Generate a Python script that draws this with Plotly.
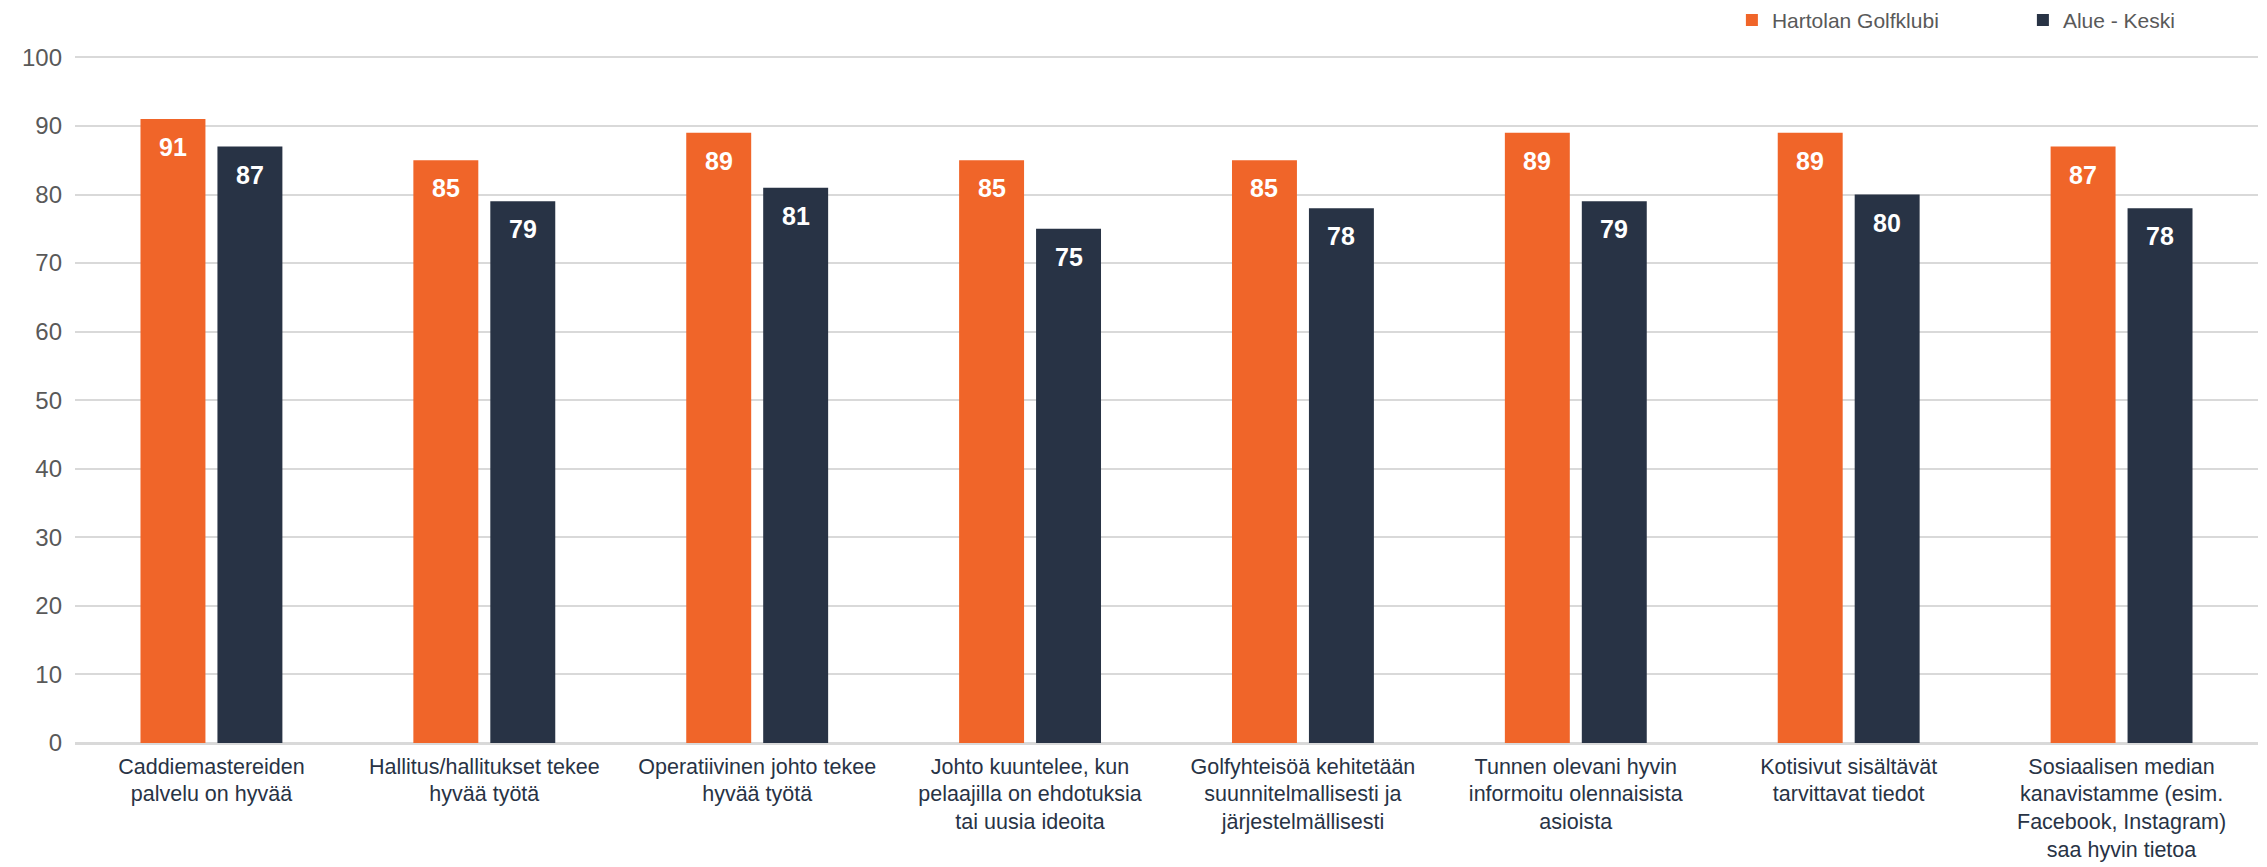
import plotly.graph_objects as go

categories = [
    "Caddiemastereiden<br>palvelu on hyvää",
    "Hallitus/hallitukset tekee<br>hyvää työtä",
    "Operatiivinen johto tekee<br>hyvää työtä",
    "Johto kuuntelee, kun<br>pelaajilla on ehdotuksia<br>tai uusia ideoita",
    "Golfyhteisöä kehitetään<br>suunnitelmallisesti ja<br>järjestelmällisesti",
    "Tunnen olevani hyvin<br>informoitu olennaisista<br>asioista",
    "Kotisivut sisältävät<br>tarvittavat tiedot",
    "Sosiaalisen median<br>kanavistamme (esim.<br>Facebook, Instagram)<br>saa hyvin tietoa",
]
series_names = ["Hartolan Golfklubi", "Alue - Keski"]
hartola = [91, 85, 89, 85, 85, 89, 89, 87]
alue = [87, 79, 81, 75, 78, 79, 80, 78]
y_ticks = [0, 10, 20, 30, 40, 50, 60, 70, 80, 90, 100]

colors = ["#F06529", "#283345"]
FONT = "Liberation Sans, Arial, sans-serif"

BARGAP = 0.436
BARGROUPGAP = 0.156
W, H = 2259, 859
ML, MR, MT, MB = 67, 9, 48, 124

fig = go.Figure()
for name, vals, col in zip(series_names, [hartola, alue], colors):
    fig.add_trace(go.Bar(
        name=name, x=categories, y=vals,
        marker=dict(color=col, line=dict(width=0)),
        cliponaxis=False,
    ))

# data labels placed inside the top of each bar
cat_px = (W - ML - MR) / len(categories)
slot_px = cat_px * (1 - BARGAP) / 2
for i, vals in enumerate([hartola, alue]):
    shift = (i - 0.5) * slot_px
    for c, v in zip(categories, vals):
        fig.add_annotation(
            x=c, y=v, xref="x", yref="y", text=str(v), showarrow=False,
            xshift=shift, yshift=-28, yanchor="middle", xanchor="center",
            font=dict(family=FONT, size=25, color="white", weight="bold"),
        )

fig.update_layout(
    width=W, height=H,
    barmode="group", bargap=BARGAP, bargroupgap=BARGROUPGAP,
    plot_bgcolor="white", paper_bgcolor="white",
    margin=dict(l=ML, r=MR, t=MT, b=MB, autoexpand=False),
    font=dict(family=FONT, color="#595959"),
    showlegend=True,
    legend=dict(
        orientation="h", x=0.759, xanchor="left", y=1.052, yanchor="middle",
        font=dict(family=FONT, size=21, color="#595959"),
        entrywidth=246, entrywidthmode="pixels",
        bgcolor="rgba(0,0,0,0)", traceorder="normal",
    ),
    xaxis=dict(
        type="category", tickfont=dict(family=FONT, size=21.5, color="#283345"),
        showgrid=False, showline=False, ticks="", ticklabelstandoff=8,
    ),
    yaxis=dict(
        range=[0, 100.2], tickvals=y_ticks, ticktext=[str(t) for t in y_ticks],
        tickfont=dict(family=FONT, size=24, color="#595959"),
        showgrid=True, gridcolor="#D9D9D9", gridwidth=1.5,
        zeroline=True, zerolinecolor="#D9D9D9", zerolinewidth=2.5,
        showline=False, ticks="", ticklabelstandoff=12,
    ),
)

fig.write_html("out.html")
